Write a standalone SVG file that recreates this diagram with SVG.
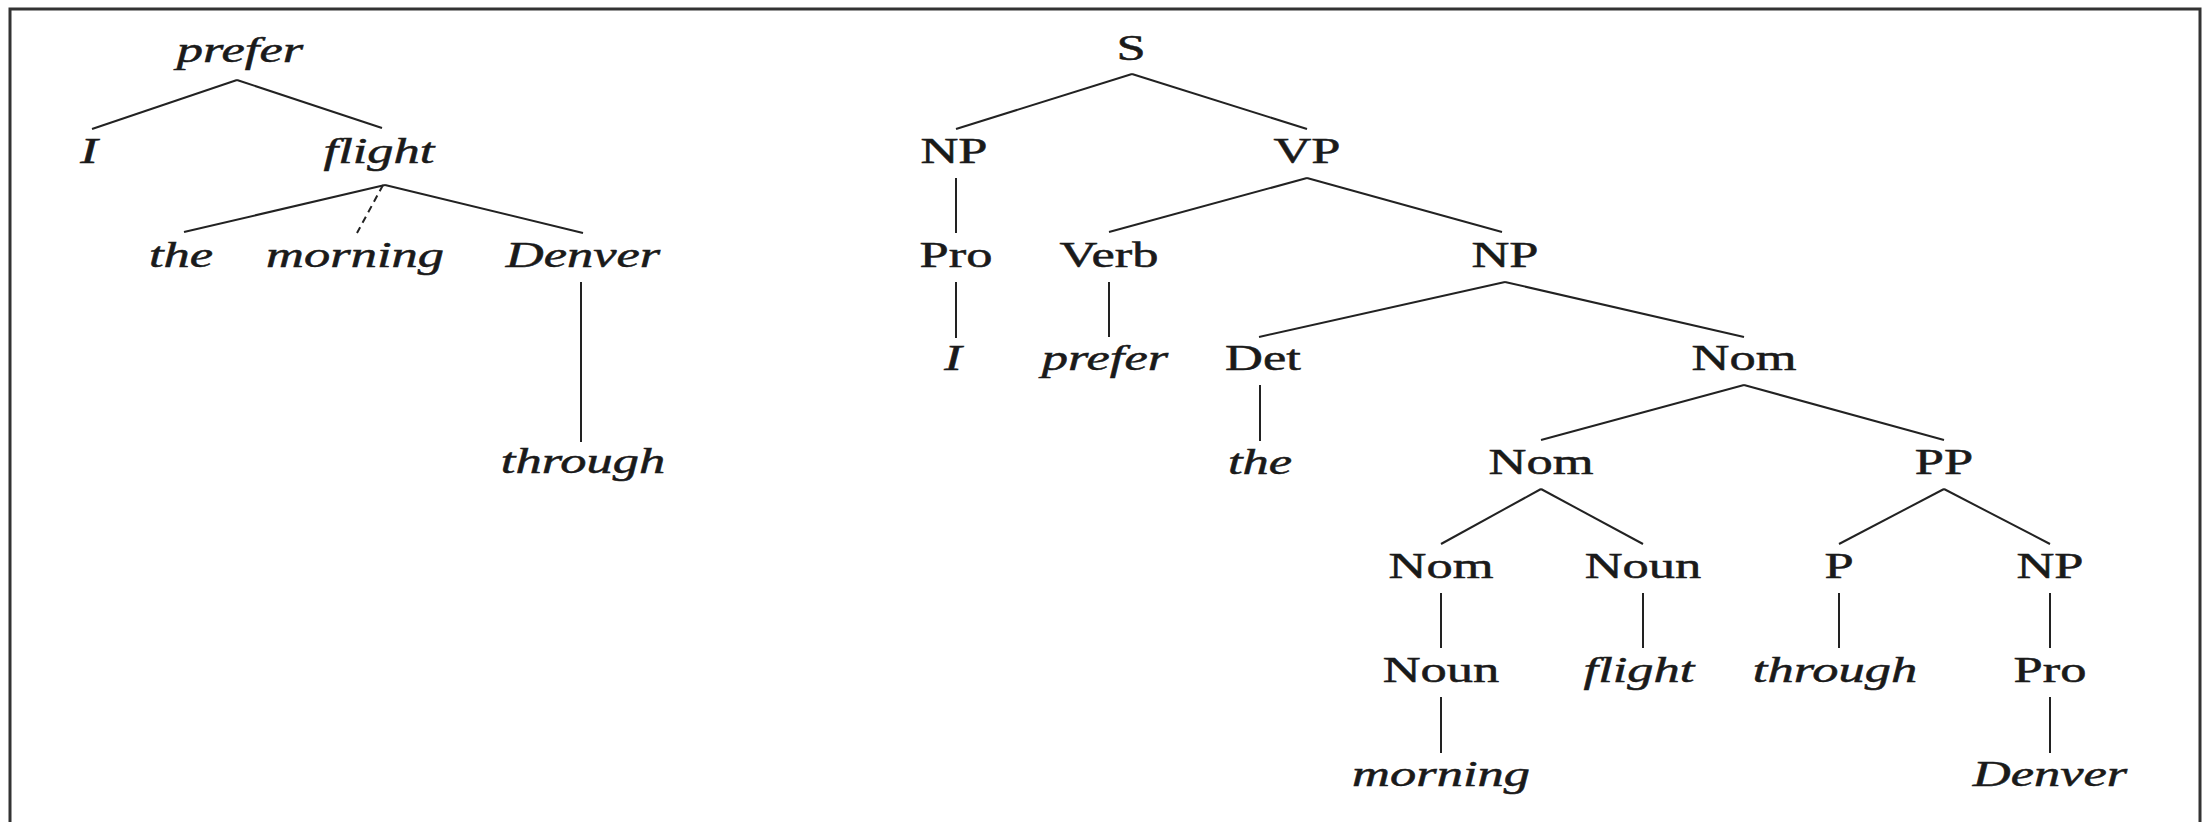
<svg xmlns="http://www.w3.org/2000/svg" width="2202" height="822" viewBox="0 0 2202 822">
<style>
text{font-family:"Liberation Serif","Times New Roman",serif;font-size:35px;fill:#1a1a1a;stroke:#1a1a1a;stroke-width:0.5;text-anchor:middle}
.w{font-style:italic}
.e{stroke:#222;stroke-width:2;fill:none}
.d{stroke-dasharray:7 5}
</style>
<rect x="0" y="0" width="2202" height="822" fill="#fff"/>
<path d="M10,822 L10,9 L2200,9 L2200,822" fill="none" stroke="#333" stroke-width="3"/>
<g id="connectors">
<path class="e" d="M237,80 L92,129"/>
<path class="e" d="M237,80 L382,128"/>
<path class="e" d="M385,185 L184,232"/>
<path class="e d" d="M383,185 L357,233"/>
<path class="e" d="M385,185 L583,233"/>
<path class="e" d="M581,282 L581,442"/>
<path class="e" d="M1132,74 L956,129"/>
<path class="e" d="M1132,74 L1307,129"/>
<path class="e" d="M956,178 L956,233"/>
<path class="e" d="M1307,178 L1109,232"/>
<path class="e" d="M1307,178 L1502,232"/>
<path class="e" d="M956,282 L956,338"/>
<path class="e" d="M1109,282 L1109,337"/>
<path class="e" d="M1505,282 L1259,337"/>
<path class="e" d="M1505,282 L1744,337"/>
<path class="e" d="M1260,385 L1260,441"/>
<path class="e" d="M1744,385 L1541,440"/>
<path class="e" d="M1744,385 L1944,440"/>
<path class="e" d="M1541,489 L1441,544"/>
<path class="e" d="M1541,489 L1643,544"/>
<path class="e" d="M1944,489 L1839,544"/>
<path class="e" d="M1944,489 L2050,544"/>
<path class="e" d="M1441,593 L1441,648"/>
<path class="e" d="M1643,593 L1643,648"/>
<path class="e" d="M1839,593 L1839,648"/>
<path class="e" d="M2050,593 L2050,648"/>
<path class="e" d="M1441,697 L1441,753"/>
<path class="e" d="M2050,697 L2050,753"/>
</g>
<g id="dep-prefer"><text class="w" transform="translate(240,62) scale(1.5,1)">prefer</text></g>
<g id="dep-I"><text class="w" transform="translate(89,163) scale(1.5,1)">I</text></g>
<g id="dep-flight"><text class="w" transform="translate(379,163) scale(1.5,1)">flight</text></g>
<g id="dep-the"><text class="w" transform="translate(181,267) scale(1.5,1)">the</text></g>
<g id="dep-morning"><text class="w" transform="translate(355,267) scale(1.5,1)">morning</text></g>
<g id="dep-Denver"><text class="w" transform="translate(583,267) scale(1.5,1)">Denver</text></g>
<g id="dep-through"><text class="w" transform="translate(583,473) scale(1.5,1)">through</text></g>
<g id="c-S"><text transform="translate(1131,60) scale(1.5,1)">S</text></g>
<g id="c-NP1"><text transform="translate(954,163) scale(1.5,1)">NP</text></g>
<g id="c-VP"><text transform="translate(1307,163) scale(1.5,1)">VP</text></g>
<g id="c-Pro1"><text transform="translate(956,267) scale(1.5,1)">Pro</text></g>
<g id="c-Verb"><text transform="translate(1109,267) scale(1.5,1)">Verb</text></g>
<g id="c-NP2"><text transform="translate(1505,267) scale(1.5,1)">NP</text></g>
<g id="c-I"><text class="w" transform="translate(953,370) scale(1.5,1)">I</text></g>
<g id="c-prefer"><text class="w" transform="translate(1105,370) scale(1.5,1)">prefer</text></g>
<g id="c-Det"><text transform="translate(1263,370) scale(1.5,1)">Det</text></g>
<g id="c-Nom1"><text transform="translate(1744,370) scale(1.5,1)">Nom</text></g>
<g id="c-the"><text class="w" transform="translate(1260,474) scale(1.5,1)">the</text></g>
<g id="c-Nom2"><text transform="translate(1541,474) scale(1.5,1)">Nom</text></g>
<g id="c-PP"><text transform="translate(1944,474) scale(1.5,1)">PP</text></g>
<g id="c-Nom3"><text transform="translate(1441,578) scale(1.5,1)">Nom</text></g>
<g id="c-Noun1"><text transform="translate(1643,578) scale(1.5,1)">Noun</text></g>
<g id="c-P"><text transform="translate(1839,578) scale(1.5,1)">P</text></g>
<g id="c-NP3"><text transform="translate(2050,578) scale(1.5,1)">NP</text></g>
<g id="c-Noun2"><text transform="translate(1441,682) scale(1.5,1)">Noun</text></g>
<g id="c-flight"><text class="w" transform="translate(1639,682) scale(1.5,1)">flight</text></g>
<g id="c-through"><text class="w" transform="translate(1835,682) scale(1.5,1)">through</text></g>
<g id="c-Pro2"><text transform="translate(2050,682) scale(1.5,1)">Pro</text></g>
<g id="c-morning"><text class="w" transform="translate(1441,786) scale(1.5,1)">morning</text></g>
<g id="c-Denver"><text class="w" transform="translate(2050,786) scale(1.5,1)">Denver</text></g>
</svg>
